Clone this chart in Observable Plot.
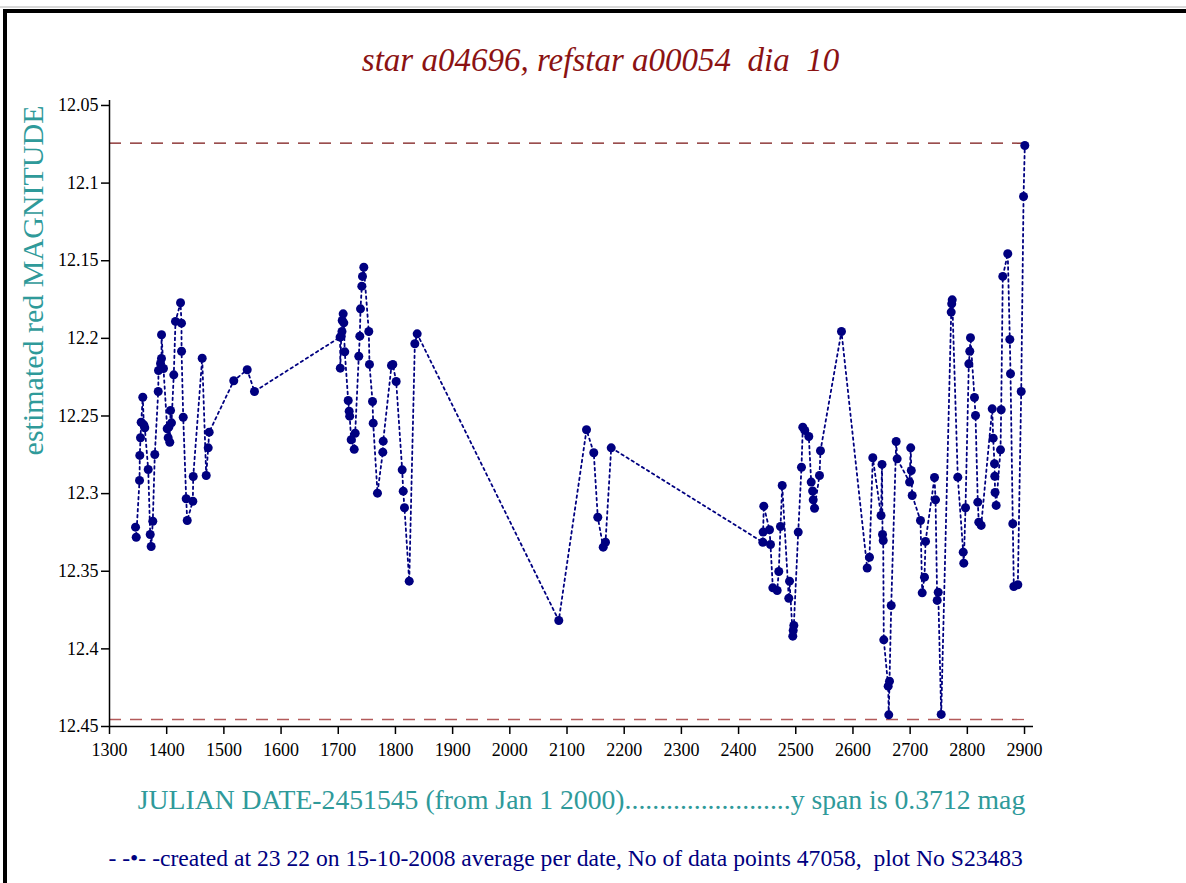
<!DOCTYPE html>
<html><head><meta charset="utf-8">
<script src="https://cdn.jsdelivr.net/npm/d3@7"></script>
<script src="https://cdn.jsdelivr.net/npm/@observablehq/plot@0.6"></script>
<style>
html,body{margin:0;padding:0;background:#fff;}
#wrap{position:relative;width:1186px;height:883px;overflow:hidden;background:#fff;}
#chart{position:absolute;left:0;top:0;}
#chart svg, #chart svg text{font-family:"Liberation Serif","Times New Roman",serif !important;}
#grayTop{position:absolute;left:0;top:6px;width:1186px;height:2px;background:#d8d8d8;}
#frameTop{position:absolute;left:3px;top:9px;width:1183px;height:4px;background:#000;}
#frameLeft{position:absolute;left:3px;top:9px;width:4px;height:874px;background:#000;}
</style></head>
<body>
<div id="wrap"><div id="chart"></div><div id="grayTop"></div><div id="frameTop"></div><div id="frameLeft"></div></div>
<script>
// Julian date - 2451545 (one average per date)
const dates = [
  1345.5,1346.7,1352.5,1353.0,1354.2,1355.4,1358.2,1360.0,1361.7,1367.7,
  1371.2,1372.9,1375.7,1379.2,1385.2,1385.7,1389.2,1390.9,1391.0,1394.4,
  1400.9,1402.6,1403.7,1405.4,1406.7,1408.4,1412.4,1415.4,1424.2,1425.9,
  1426.0,1428.9,1434.1,1435.9,1445.7,1446.4,1462.1,1469.1,1472.6,1474.3,
  1517.3,1540.8,1553.5,
  1703.2,1703.6,1705.2,1706.5,1706.9,1708.6,1709.7,1711.4,1717.4,1719.1,
  1720.0,1722.6,1727.9,1729.6,1735.9,1737.7,1738.9,1741.2,1742.4,1744.7,
  1753.4,1754.6,1759.9,1761.1,1768.6,1777.9,1778.6,1793.1,1795.4,1801.3,
  1811.8,1813.6,1815.8,1824.1,1833.9,1838.0,
  2085.6,2134.1,2146.8,2153.8,2163.3,2167.3,2177.3,
  2442.4,2442.9,2444.1,2454.1,2455.8,2459.9,2467.5,2470.3,2473.3,2476.3,
  2487.8,2489.1,2494.8,2495.5,2496.6,2504.3,2510.0,2512.3,2515.8,2522.8,
  2527.0,2529.5,2530.5,2532.8,2541.5,2543.2,2579.9,
  2624.9,2628.9,2634.7,2649.1,2650.8,2651.7,2652.9,2653.9,2661.6,2662.6,
  2663.9,2666.9,2675.6,2677.3,2699.0,2701.0,2702.0,2703.6,2718.1,2721.1,
  2725.1,2726.9,2742.6,2744.4,2747.3,2749.1,2754.3,2771.8,2772.7,2773.6,
  2783.3,2792.8,2793.8,2796.8,2802.6,2804.3,2805.5,2812.5,2814.3,2818.3,
  2820.0,2824.2,2843.5,2845.2,2847.5,2848.0,2848.5,2850.4,2858.0,2859.2,
  2862.0,2870.7,2874.3,2875.5,2879.5,2881.3,2888.3,2894.2,2898.3,2900.5
];
// estimated red magnitude
const mags = [
  12.3216,12.3281,12.2915,12.2754,12.2640,12.2540,12.2379,12.2557,12.2576,12.2845,
  12.3263,12.3341,12.3178,12.2748,12.2342,12.2207,12.2162,12.2130,12.1977,12.2194,
  12.2582,12.2640,12.2572,12.2669,12.2465,12.2544,12.2235,12.1891,12.1771,12.1902,
  12.2083,12.2508,12.3033,12.3173,12.3049,12.2890,12.2128,12.2883,12.2705,12.2604,
  12.2273,12.2202,12.2342,
  12.1992,12.2192,12.1986,12.1956,12.1885,12.1842,12.1900,12.2087,12.2400,12.2469,
  12.2501,12.2653,12.2715,12.2611,12.2115,12.1986,12.1810,12.1664,12.1601,12.1542,
  12.1956,12.2168,12.2407,12.2546,12.2997,12.2733,12.2662,12.2175,12.2168,12.2278,
  12.2847,12.2984,12.3091,12.3564,12.2035,12.1971,
  12.3817,12.2589,12.2737,12.3152,12.3345,12.3313,12.2705,
  12.3313,12.3248,12.3081,12.3233,12.3328,12.3607,12.3624,12.3502,12.3212,12.2948,
  12.3674,12.3564,12.3918,12.3882,12.3849,12.3248,12.2830,12.2572,12.2593,12.2632,
  12.2926,12.2983,12.3040,12.3094,12.2883,12.2724,12.1956,
  12.3479,12.3410,12.2769,12.3141,12.2812,12.3263,12.3302,12.3942,12.4240,12.4425,
  12.4208,12.3721,12.2664,12.2776,12.2926,12.2705,12.2851,12.3012,12.3173,12.3639,
  12.3538,12.3308,12.2896,12.3040,12.3688,12.3635,12.4422,12.1831,12.1777,12.1752,
  12.2894,12.3377,12.3448,12.3091,12.2164,12.2083,12.1996,12.2381,12.2497,12.3055,
  12.3184,12.3205,12.2454,12.2643,12.2808,12.2888,12.2993,12.3076,12.2718,12.2460,
  12.1601,12.1455,12.2007,12.2228,12.3194,12.3598,12.3587,12.2342,12.1086,12.0758
];
// y-span limit lines (span 0.3712 mag)
const spanLines = [12.0743, 12.4455];
const spanColors = ["#7a1414", "#b35a5a"];
const xTicks = [1300,1400,1500,1600,1700,1800,1900,2000,2100,2200,2300,2400,2500,2600,2700,2800,2900];
const yTicks = [12.05,12.1,12.15,12.2,12.25,12.3,12.35,12.4,12.45];
const yTickLabels = ["12.05","12.1","12.15","12.2","12.25","12.3","12.35","12.4","12.45"];
const titleText = "star a04696, refstar a00054\u00a0 dia\u00a0 10";
const yLabelText = "estimated red MAGNITUDE";
const xLabelText = "JULIAN DATE-2451545 (from Jan 1 2000)........................y span is 0.3712 mag";
const captionText = "- -\u2022- -created at 23 22 on 15-10-2008 average per date, No of data points 47058,\u00a0 plot No S23483";

const navy = "#000080";
const teal = "#2f9a9a";
const serif = "Liberation Serif";

const data = dates.map((d, i) => ({date: d, mag: mags[i]}));
const limits = spanLines.map((v, i) => ({mag: v, color: spanColors[i]}));
const firstTick = xTicks[0], lastDate = d3.max(dates);

const chart = Plot.plot({
  width: 1186,
  height: 883,
  marginLeft: 109,
  marginRight: 153,
  marginTop: 100,
  marginBottom: 157,
  style: {fontFamily: serif, background: "transparent", color: "black"},
  x: {domain: [1300, 2915.7]},
  y: {domain: [12.0468, 12.45], reverse: true},
  marks: [
    Plot.ruleY(limits, {y: "mag", x1: firstTick, x2: lastDate, stroke: d => d.color, strokeWidth: 1.3, strokeDasharray: "12,9"}),
    Plot.axisX(xTicks, {tickSize: 8, tickPadding: 9, fontSize: 18, fontFamily: serif, tickFormat: d => String(d), label: null, stroke: "black", strokeWidth: 1.5, fill: "black"}),
    Plot.axisY(yTicks, {tickSize: 8, tickPadding: 3, fontSize: 18, fontFamily: serif, tickFormat: d => yTickLabels[yTicks.indexOf(d)], label: null, stroke: "black", strokeWidth: 1.5, fill: "black"}),
    Plot.ruleX([1300], {stroke: "black", strokeWidth: 1.5}),
    Plot.ruleY([12.45], {stroke: "black", strokeWidth: 1.5}),
    Plot.line(data, {x: "date", y: "mag", stroke: navy, strokeWidth: 1.8, strokeDasharray: "2.5,3.5"}),
    Plot.dot(data, {x: "date", y: "mag", r: 4.5, fill: navy, stroke: "none"}),
    Plot.text([titleText], {text: d => d, frameAnchor: "top", dx: 29, dy: -40, fontSize: 33, fontFamily: serif, fontStyle: "italic", fill: "#8b1212", lineAnchor: "middle"}),
    Plot.text([yLabelText], {text: d => d, frameAnchor: "top-left", dx: -76, dy: 5, rotate: -90, textAnchor: "end", lineAnchor: "middle", fontSize: 30, fontFamily: serif, fill: teal}),
    Plot.text([xLabelText], {text: d => d, frameAnchor: "bottom", dx: 10, dy: 74, fontSize: 27.7, fontFamily: serif, fill: teal, lineAnchor: "middle"}),
    Plot.text([captionText], {text: d => d, frameAnchor: "bottom-left", dx: -1, dy: 132, textAnchor: "start", lineAnchor: "middle", fontSize: 23.6, fontFamily: serif, fill: navy})
  ]
});
document.getElementById("chart").appendChild(chart);
</script>
</body></html>
